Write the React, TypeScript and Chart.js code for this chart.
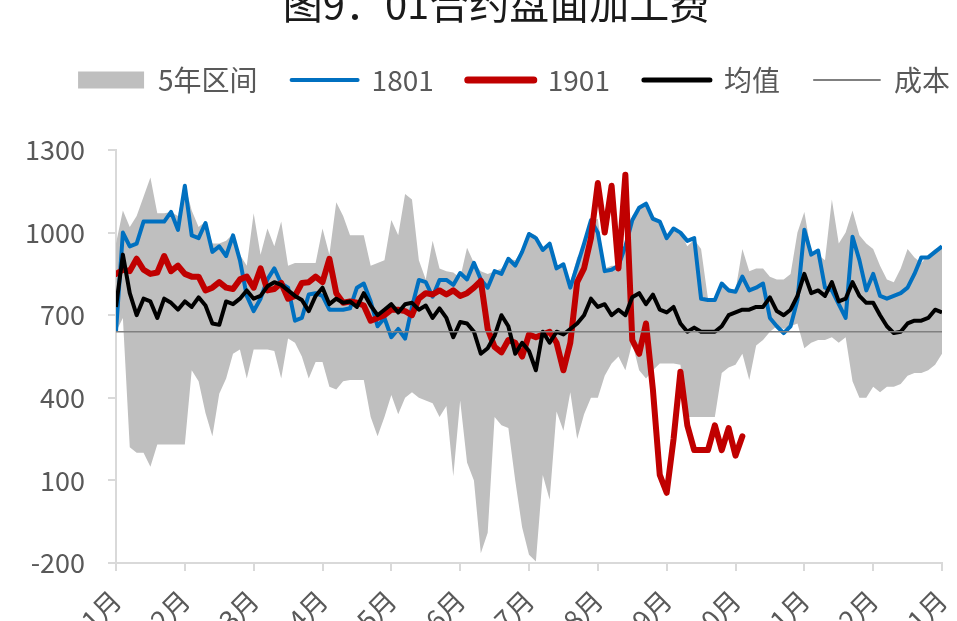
import { useEffect, useRef } from 'react';
import { Chart, registerables } from 'chart.js';

Chart.register(...registerables);

const TITLE = '图9：01合约盘面加工费';
const MONTH_LABELS = ['1月', '2月', '3月', '4月', '5月', '6月', '7月', '8月', '9月', '10月', '11月', '12月', '1月'];
const POINTS_PER_MONTH = 10;

const RANGE_HIGH = [
  960, 1080, 1020, 1060, 1130, 1200, 1070, 1070, 1075, 1060,
  1175, 1080, 1020, 1040, 960, 960, 970, 995, 920, 880,
  1070, 920, 1015, 950, 1040, 880, 890, 890, 890, 890,
  1015, 920, 1110, 1060, 990, 990, 990, 880, 890, 900,
  1046, 990, 1140, 1120, 900, 830, 970, 870, 860, 855,
  835, 945, 890, 860, 850, 860, 870, 905, 900, 935,
  1000, 990, 940, 960, 880, 880, 820, 910, 950, 1040,
  1050, 870, 880, 880, 940, 1060, 1090, 1105, 1060, 1045,
  975, 1010, 1000, 950, 975, 940, 760, 760, 815, 800,
  790, 940, 860, 870, 870, 840, 830, 830, 850, 1000,
  1075, 930, 920, 900, 1120, 960, 1000, 1080, 990, 960,
  940, 880, 830, 820, 870, 940, 910, 890, 920, 940,
  950,
];

const RANGE_LOW = [
  640, 690, 220, 200, 200, 150, 230, 230, 230, 230,
  230, 500, 460, 345, 260, 415, 470, 560, 575, 470,
  575, 575, 575, 570, 470, 615, 600, 550, 470, 530,
  530, 440, 430, 460, 465, 465, 465, 330, 260, 330,
  410, 340, 400, 420, 400, 390, 380, 330, 370, 115,
  390, 165, 100, -165, -90, 330, 300, 290, 100, -70,
  -170, -195, 120, 30, 350, 280, 420, 250, 340, 400,
  400, 480, 525, 550, 500, 600, 500, 470, 500, 525,
  525, 525, 520, 330, 330, 330, 330, 330, 490, 510,
  520, 560, 465, 590, 610, 640, 660, 650, 660, 670,
  580, 600, 610, 610, 620, 600, 620, 460, 400, 400,
  440, 420, 440, 440, 450, 480, 490, 490, 500, 520,
  560,
];

const SERIES_1801 = [
  640, 1000, 950, 960, 1040, 1040, 1040, 1040, 1075, 1010,
  1170, 990, 980, 1035, 930, 950, 915, 990, 900, 770,
  715, 760, 830, 870, 815, 800, 680, 690, 775, 780,
  770, 720, 720, 720, 725, 800, 815, 750, 660, 690,
  620, 650, 615, 730, 828, 820, 767, 828, 828, 810,
  853, 830, 890, 830, 800, 860, 850, 905, 880, 930,
  995, 980, 937, 960, 870, 885, 800, 880, 960, 1045,
  1000, 860, 865, 880, 950, 1045, 1090, 1105, 1050, 1040,
  980, 1015, 1000, 970, 980, 760, 755, 755, 815, 790,
  785, 840, 790, 800, 815, 690, 660, 635, 660, 755,
  1010, 920, 935, 800, 790, 740, 690, 985, 900, 790,
  850, 770, 760, 770, 780, 800, 850, 910, 910, 930,
  950,
];

const SERIES_1901 = [
  850, 865, 860, 905, 865, 850, 855, 915, 860, 880,
  850, 840, 840, 790, 800, 820, 800, 795, 830, 840,
  800, 870, 790, 795, 817, 760, 770, 817, 820, 840,
  820, 905, 780, 745, 750, 745, 735, 680, 690, 700,
  720, 720, 715, 700, 760, 780, 775, 790, 775, 790,
  770, 780, 800, 825, 650, 585, 565, 610, 600, 550,
  630, 620, 630, 640, 600, 500, 600, 820, 870, 980,
  1180, 1000, 1170, 870, 1210, 610, 560, 670, 430, 120,
  55, 250, 495, 300, 210, 210, 210, 300, 210, 290,
  190, 260,
];

const SERIES_AVG = [
  730, 920, 780, 700, 760, 750, 690, 760, 745, 720,
  750, 730, 765, 735, 670, 665, 750, 740, 760, 790,
  760, 770, 805, 820, 810, 790, 770, 755, 715, 770,
  800, 740, 760, 745, 750, 730, 780, 735, 700, 720,
  740, 710, 740, 745, 720, 735, 690, 725, 690, 620,
  675, 670, 640, 560, 580, 625, 700, 660, 560, 600,
  570, 500, 640, 600, 640, 630, 650, 670, 700, 760,
  730, 740, 700, 720, 700, 765, 780, 740, 775, 720,
  710, 730, 670, 640, 655, 640, 640, 640, 660, 700,
  710, 720, 720, 730, 730, 765, 715, 700, 720, 770,
  850, 780, 790, 770, 820, 750, 760, 820, 770, 745,
  745, 700, 660, 635, 640, 670, 680, 680, 690, 720,
  710,
];

const COST = 640;

const Y_MIN = -200;
const Y_MAX = 1300;
const Y_STEP = 300;

const GREY_AREA = '#bfbfbf';
const BLUE = '#0070c0';
const RED = '#c00000';
const BLACK = '#000000';
const COST_COLOR = '#808080';
const TEXT = '#595959';
const AXIS = '#d9d9d9';
const FONT = '"Noto Sans CJK SC", "Noto Sans", sans-serif';

const toXY = (arr: number[]) => arr.map((v, i) => ({ x: i, y: v }));

export default function App() {
  const ref = useRef<HTMLCanvasElement | null>(null);

  useEffect(() => {
    if (!ref.current) return;
    const lastIndex = (MONTH_LABELS.length - 1) * POINTS_PER_MONTH;

    const titlePlugin = {
      id: 'topTitle',
      afterDraw(chart: any) {
        const ctx = chart.ctx;
        ctx.save();
        ctx.font = `40px ${FONT}`;
        ctx.fillStyle = '#1a1a1a';
        ctx.textAlign = 'center';
        ctx.textBaseline = 'alphabetic';
        ctx.fillText(TITLE, 496, 19);
        ctx.restore();
      },
    };

    const legendStyles: any[] = [
      { pointStyle: 'rect', lineWidth: 0, color: GREY_AREA },
      null,
      { pointStyle: 'line', lineWidth: 4, color: BLUE },
      { pointStyle: 'line', lineWidth: 7, color: RED },
      { pointStyle: 'line', lineWidth: 5, color: BLACK },
      { pointStyle: 'line', lineWidth: 2, color: COST_COLOR },
    ];

    const chart = new Chart(ref.current, {
      type: 'line',
      data: {
        datasets: [
          {
            label: '5年区间',
            data: toXY(RANGE_HIGH),
            borderWidth: 0,
            borderColor: GREY_AREA,
            backgroundColor: GREY_AREA,
            pointRadius: 0,
            fill: '+1',
            order: 6,
          },
          {
            label: 'low',
            data: toXY(RANGE_LOW),
            borderWidth: 0,
            borderColor: GREY_AREA,
            backgroundColor: GREY_AREA,
            pointRadius: 0,
            fill: false,
            order: 7,
          },
          {
            label: '1801',
            data: toXY(SERIES_1801),
            borderWidth: 4,
            borderColor: BLUE,
            pointRadius: 0,
            fill: false,
            borderJoinStyle: 'round',
            order: 4,
          },
          {
            label: '1901',
            data: toXY(SERIES_1901),
            borderWidth: 6,
            borderColor: RED,
            pointRadius: 0,
            fill: false,
            borderJoinStyle: 'round',
            borderCapStyle: 'round',
            order: 3,
          },
          {
            label: '均值',
            data: toXY(SERIES_AVG),
            borderWidth: 4,
            borderColor: BLACK,
            pointRadius: 0,
            fill: false,
            borderJoinStyle: 'round',
            order: 2,
          },
          {
            label: '成本',
            data: [
              { x: 0, y: COST },
              { x: lastIndex, y: COST },
            ],
            borderWidth: 1.5,
            borderColor: COST_COLOR,
            pointRadius: 0,
            fill: false,
            order: 1,
          },
        ],
      },
      options: {
        responsive: false,
        animation: false,
        layout: { padding: { top: 32, left: 0, right: 0, bottom: 0 } },
        plugins: {
          filler: { drawTime: 'beforeDatasetsDraw' },
          tooltip: { enabled: false },
          title: { display: false },
          subtitle: {
            display: true,
            text: '',
            font: { size: 1, lineHeight: 1 },
            padding: { top: 0, bottom: 45 },
            weight: 500,
          } as any,
          legend: {
            display: true,
            position: 'top',
            labels: {
              usePointStyle: true,
              pointStyleWidth: 66,
              boxHeight: 17,
              padding: 34,
              color: TEXT,
              font: { family: FONT, size: 28 },
              generateLabels: (c: any) =>
                c.data.datasets
                  .map((ds: any, i: number) => {
                    const st = legendStyles[i];
                    if (!st) return null;
                    return {
                      text: ds.label,
                      fillStyle: st.color,
                      strokeStyle: st.color,
                      lineWidth: st.lineWidth,
                      lineCap: 'round',
                      pointStyle: st.pointStyle,
                      fontColor: TEXT,
                      hidden: false,
                      datasetIndex: i,
                    };
                  })
                  .filter((x: any) => x),
            },
          },
        },
        scales: {
          x: {
            type: 'linear',
            min: 0,
            max: lastIndex,
            afterBuildTicks: (s: any) => {
              s.ticks = MONTH_LABELS.map((_, k) => ({ value: k * POINTS_PER_MONTH }));
            },
            afterFit: (s: any) => {
              s.height = 680 - 563;
            },
            ticks: {
              autoSkip: false,
              minRotation: 45,
              maxRotation: 45,
              padding: 13,
              color: TEXT,
              font: { family: FONT, size: 27 },
              callback: (v: any) => MONTH_LABELS[Math.round(Number(v) / POINTS_PER_MONTH)] ?? '',
            },
            grid: {
              display: true,
              drawOnChartArea: false,
              drawTicks: true,
              tickLength: 8,
              color: AXIS,
              lineWidth: 2,
            },
            border: { display: true, color: AXIS, width: 2 },
          },
          y: {
            type: 'linear',
            position: 'left',
            min: Y_MIN,
            max: Y_MAX,
            afterFit: (s: any) => {
              s.width = 116;
            },
            ticks: {
              stepSize: Y_STEP,
              padding: 23,
              color: TEXT,
              font: { family: FONT, size: 27 },
              callback: (v: any) => String(v),
            },
            grid: {
              display: true,
              drawOnChartArea: false,
              drawTicks: true,
              tickLength: 8,
              color: AXIS,
              lineWidth: 2,
            },
            border: { display: true, color: AXIS, width: 2 },
          },
          y2: {
            type: 'linear',
            position: 'right',
            min: Y_MIN,
            max: Y_MAX,
            afterFit: (s: any) => {
              s.width = 1028 - 942;
            },
            ticks: { display: false },
            grid: { display: false, drawTicks: false },
            border: { display: false },
          },
        },
      } as any,
      plugins: [titlePlugin],
    });

    return () => chart.destroy();
  }, []);

  return (
    <div style={{ position: 'fixed', left: 0, top: 0, width: 1028, height: 680, background: '#fff' }}>
      <canvas ref={ref} width={1028} height={680} style={{ display: 'block' }} />
    </div>
  );
}
